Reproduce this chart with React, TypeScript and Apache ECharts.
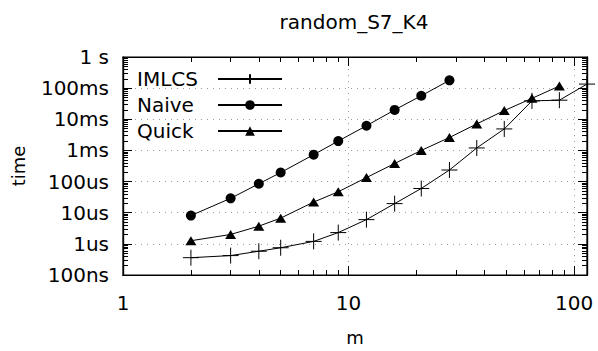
import React, { useEffect, useRef } from "react";
import * as echarts from "echarts";

const titleText = "random_S7_K4";
const xName = "m";
const yName = "time";
const mValues = [2, 3, 4, 5, 7, 9, 12, 16, 21, 28, 37, 49, 65, 86, 114];
const imlcsTimes = [3.6e-7, 4.2e-7, 5.8e-7, 7.5e-7, 1.2e-6, 2.3e-6, 6.0e-6, 1.96e-5, 6.0e-5, 2.35e-4, 1.2e-3, 4.9e-3, 3.9e-2, 4.1e-2, 0.135];
const naiveTimes = [8.1e-6, 2.9e-5, 8.5e-5, 1.95e-4, 7.3e-4, 2.0e-3, 6.2e-3, 2.0e-2, 5.7e-2, 0.178];
const quickTimes = [1.26e-6, 2.0e-6, 3.7e-6, 6.7e-6, 2.2e-5, 4.7e-5, 1.34e-4, 3.8e-4, 1.0e-3, 2.6e-3, 7.1e-3, 1.9e-2, 4.7e-2, 0.117];
const xTickValues = [1, 10, 100];
const xTickLabels = ["1", "10", "100"];
const yTickValues = [1e-7, 1e-6, 1e-5, 1e-4, 1e-3, 1e-2, 1e-1, 1];
const yTickLabels = ["100ns", "1us", "10us", "100us", "1ms", "10ms", "100ms", "1 s"];
const legendNames = ["IMLCS", "Naive", "Quick"];

const FONT = "DejaVu Sans";
const X_MIN = 1;
const X_MAX = 114;
const Y_MIN = 1e-7;
const Y_MAX = 1;

function minorValues(lo: number, hi: number): number[] {
  const out: number[] = [];
  for (let e = Math.round(Math.log10(lo)); Math.pow(10, e) < hi; e++) {
    for (let k = 2; k <= 9; k++) {
      const v = k * Math.pow(10, e);
      if (v > lo && v < hi) out.push(v);
    }
  }
  return out;
}

function pair(v: number[], t: number[]) {
  return t.map((y, i) => [v[i], y]);
}

const plusPath = "path://M8,0L8,16M0,8L16,8";

export default function App() {
  const ref = useRef<HTMLDivElement>(null);
  useEffect(() => {
    if (!ref.current) return;
    const chart = echarts.init(ref.current, undefined, { renderer: "svg" });
    const xMinor = minorValues(X_MIN, X_MAX);
    const yMinor = minorValues(Y_MIN, Y_MAX);
    const gridLine = { show: true, lineStyle: { color: "#999", type: [1, 5] as any, width: 1 } };
    const xLabelFmt = (v: number) => {
      const i = xTickValues.findIndex((t) => Math.abs(Math.log10(t) - Math.log10(v)) < 1e-6);
      return i >= 0 ? xTickLabels[i] : "";
    };
    const yLabelFmt = (v: number) => {
      const i = yTickValues.findIndex((t) => Math.abs(Math.log10(t) - Math.log10(v)) < 1e-6);
      return i >= 0 ? yTickLabels[i] : "";
    };
    const baseX = { type: "log" as const, logBase: 10, min: X_MIN, max: X_MAX };
    const baseY = { type: "log" as const, logBase: 10, min: Y_MIN, max: Y_MAX };
    const axisLine = { show: true, lineStyle: { color: "#000", width: 1.2 } };
    const tickAxis = (base: any, position: string, values: number[], length: number) => ({
      ...base,
      position,
      axisLine,
      axisTick: { show: true, inside: true, length, customValues: values, lineStyle: { color: "#000", width: 1 } },
      axisLabel: { show: false },
      splitLine: { show: false },
    });
    const option: any = {
      animation: false,
      backgroundColor: "#fff",
      textStyle: { fontFamily: FONT },
      graphic: [
        {
          type: "text",
          x: 354,
          y: 22,
          style: { text: titleText, font: `20px "${FONT}"`, fill: "#000", textAlign: "center", textVerticalAlign: "middle" },
        },
      ],
      grid: { left: 123, right: 11, top: 57, bottom: 74, show: true, borderColor: "#000", borderWidth: 1.2 },
      legend: {
        orient: "vertical",
        left: 137,
        top: 69,
        padding: 0,
        align: "right",
        itemWidth: 64,
        itemHeight: 12,
        itemGap: 6,
        formatter: (n: string) => `{a|${n}}`,
        textStyle: {
          fontFamily: FONT,
          fontSize: 20,
          color: "#000",
          lineHeight: 20,
          rich: { a: { width: 76, align: "left", fontFamily: FONT, fontSize: 20, color: "#000", lineHeight: 20 } },
        },
        data: legendNames,
      },
      xAxis: [
        {
          ...baseX,
          position: "bottom",
          name: xName,
          nameLocation: "middle",
          nameGap: 53,
          nameTextStyle: { fontFamily: FONT, fontSize: 18, color: "#000" },
          axisLine,
          axisTick: { show: true, inside: true, length: 9, customValues: xTickValues, lineStyle: { color: "#000", width: 1 } },
          axisLabel: { show: true, customValues: xTickValues, formatter: xLabelFmt, fontFamily: FONT, fontSize: 20, color: "#000", margin: 18 },
          splitLine: gridLine,
        },
        tickAxis(baseX, "bottom", xMinor, 5),
        tickAxis(baseX, "top", xTickValues, 9),
        tickAxis(baseX, "top", xMinor, 5),
      ],
      yAxis: [
        {
          ...baseY,
          position: "left",
          name: yName,
          nameLocation: "middle",
          nameGap: 96,
          nameRotate: 90,
          nameTextStyle: { fontFamily: FONT, fontSize: 18, color: "#000" },
          axisLine,
          axisTick: { show: true, inside: true, length: 9, customValues: yTickValues, lineStyle: { color: "#000", width: 1 } },
          axisLabel: { show: true, customValues: yTickValues, formatter: yLabelFmt, fontFamily: FONT, fontSize: 20, color: "#000", margin: 14 },
          splitLine: gridLine,
        },
        tickAxis(baseY, "left", yMinor, 5),
        tickAxis(baseY, "right", yTickValues, 9),
        tickAxis(baseY, "right", yMinor, 5),
      ],
      series: [
        {
          name: "IMLCS",
          type: "line",
          data: pair(mValues, imlcsTimes),
          symbol: plusPath,
          symbolSize: 16,
          clip: false,
          lineStyle: { color: "#000", width: 1 },
          itemStyle: { color: "transparent", borderColor: "#000", borderWidth: 1 },
          emphasis: { disabled: true },
        },
        {
          name: "Naive",
          type: "line",
          data: pair(mValues, naiveTimes),
          symbol: "circle",
          symbolSize: 10,
          lineStyle: { color: "#000", width: 1 },
          itemStyle: { color: "#000" },
          emphasis: { disabled: true },
        },
        {
          name: "Quick",
          type: "line",
          data: pair(mValues, quickTimes),
          symbol: "triangle",
          symbolSize: [11, 9],
          lineStyle: { color: "#000", width: 1 },
          itemStyle: { color: "#000" },
          emphasis: { disabled: true },
        },
      ],
    };
    chart.setOption(option);
    return () => chart.dispose();
  }, []);
  return <div ref={ref} style={{ position: "fixed", left: 0, top: 0, width: 598, height: 351 }} />;
}
